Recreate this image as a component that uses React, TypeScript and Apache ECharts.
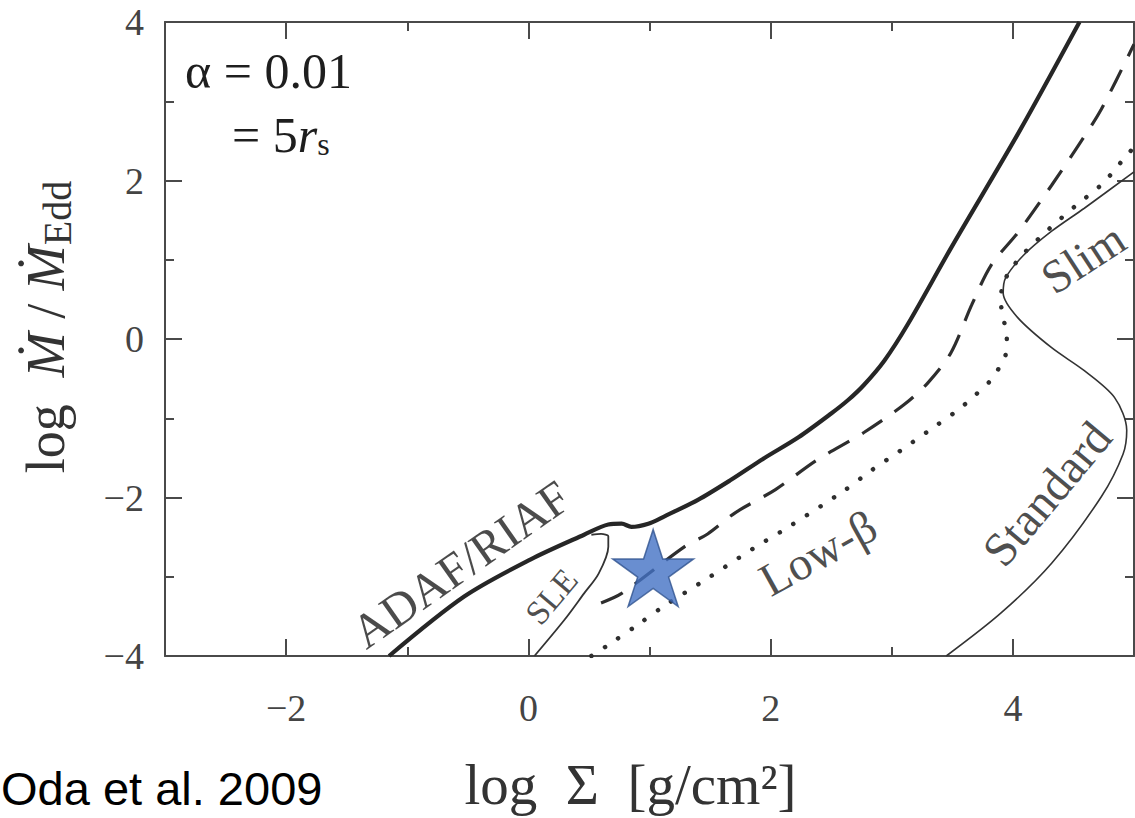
import React, { useEffect, useRef } from "react";
import * as echarts from "echarts";

// ---------- data ----------
const xMin = -3;
const xMax = 5;
const yMin = -4;
const yMax = 4;
const xMajorTicks = [-2, 0, 2, 4];

// thick solid: ADAF/RIAF branch continuing to the upper branch
const adafRiaf: number[][] = [
  [-1.15, -4.0], [-0.53, -3.25], [0.02, -2.78], [0.46, -2.47], [0.66, -2.34],
  [0.77, -2.33], [0.85, -2.37], [0.99, -2.33], [1.12, -2.24], [1.4, -2.03],
  [1.67, -1.78], [1.94, -1.51], [2.23, -1.24], [2.5, -0.94], [2.64, -0.77],
  [2.77, -0.58], [2.94, -0.27], [3.13, 0.18], [3.49, 1.15], [4.05, 2.61], [4.55, 4.0],
];
// dashed branch
const dashedBranch: number[][] = [
  [0.6, -3.33], [0.77, -3.21], [1.29, -2.62], [1.48, -2.46], [1.71, -2.19],
  [2.04, -1.9], [2.38, -1.53], [2.77, -1.18], [3.1, -0.83], [3.3, -0.55],
  [3.49, -0.17], [3.66, 0.43], [3.82, 0.93], [4.05, 1.36], [4.32, 1.94],
  [4.54, 2.44], [4.73, 2.9], [5.0, 3.72],
];
// dotted branch (Low-beta)
const lowBeta: number[][] = [
  [0.52, -4.0], [0.66, -3.86], [0.89, -3.62], [1.12, -3.37], [1.48, -3.02],
  [1.86, -2.64], [2.14, -2.38], [2.61, -1.91], [2.83, -1.66], [3.08, -1.4],
  [3.35, -1.11], [3.56, -0.88], [3.68, -0.72], [3.8, -0.55], [3.88, -0.38],
  [3.94, -0.2], [3.95, 0.04], [3.92, 0.27], [3.9, 0.48], [3.92, 0.7],
  [3.99, 0.89], [4.09, 1.08], [4.3, 1.39], [4.51, 1.67], [4.74, 1.96],
  [4.93, 2.3], [5.0, 2.42],
];
// thin S-curve: Standard + Slim
const standardSlim: number[][] = [
  [3.45, -4.0], [3.9, -3.46], [4.32, -2.83], [4.73, -1.99], [4.91, -1.45],
  [4.94, -1.15], [4.84, -0.74], [4.59, -0.4], [4.32, -0.11], [4.04, 0.27],
  [3.92, 0.58], [3.94, 0.77], [4.09, 1.06], [4.32, 1.36], [4.59, 1.65], [5.0, 2.11],
];
// SLE branch
const sleBranch: number[][] = [
  [0.05, -4.0], [0.3, -3.54], [0.46, -3.21], [0.58, -2.96], [0.66, -2.62],
  [0.66, -2.49], [0.6, -2.46], [0.52, -2.47],
];
// star marker
const starPoint: number[][] = [[1.03, -2.89]];

// region labels
const labelNames = ["ADAF/RIAF", "SLE", "Low-β", "Standard", "Slim"];
const labelX = [-0.56, 0.19, 2.39, 4.28, 4.58];
const labelY = [-2.84, -3.25, -2.7, -1.95, 1.02];
const labelRotate = [35, 50, 29, 50, 33];
const labelSize = [48, 34, 47, 48, 47];

const SERIF = "'Liberation Serif', 'DejaVu Serif', serif";
const SANS = "'Liberation Sans', Arial, sans-serif";
const STAR_PATH =
  "path://M0,-1 L0.2245,-0.309 L0.951,-0.309 L0.363,0.118 L0.588,0.809 L0,0.382 L-0.588,0.809 L-0.363,0.118 L-0.951,-0.309 L-0.2245,-0.309 Z";

const fmt = (v: number) => (v < 0 ? "\u2212" + Math.abs(v) : String(v));

export default function App() {
  const ref = useRef<HTMLDivElement>(null);

  useEffect(() => {
    if (!ref.current) return;
    const chart = echarts.init(ref.current, null, { renderer: "svg" });
    const frame = { color: "#4a4a4a", width: 2 };
    const tick = { color: "#4a4a4a", width: 2 };

    const makeX = (position: "bottom" | "top", major: boolean, withLabels: boolean) => ({
      type: "value",
      position,
      min: xMin,
      max: xMax,
      interval: 1,
      axisLine: { show: !major, onZero: false, lineStyle: frame },
      axisTick: major
        ? { show: true, inside: true, length: 17, customValues: xMajorTicks, lineStyle: tick }
        : { show: true, inside: true, length: 9, lineStyle: tick },
      axisLabel: withLabels
        ? {
            show: true,
            margin: 33,
            customValues: xMajorTicks,
            formatter: fmt,
            fontFamily: SERIF,
            fontSize: 38,
            color: "#444",
          }
        : { show: false },
      splitLine: { show: false },
    });

    const makeY = (position: "left" | "right", withLabels: boolean) => ({
      type: "value",
      position,
      min: yMin,
      max: yMax,
      interval: 2,
      axisLine: { show: true, onZero: false, lineStyle: frame },
      axisTick: { show: true, inside: true, length: 17, lineStyle: tick },
      minorTick: { show: true, splitNumber: 2, length: 9, lineStyle: tick },
      axisLabel: withLabels
        ? { show: true, margin: 21, formatter: fmt, fontFamily: SERIF, fontSize: 38, color: "#444" }
        : { show: false },
      splitLine: { show: false },
      minorSplitLine: { show: false },
    });

    const xAxes: any[] = [
      makeX("bottom", false, true),
      makeX("bottom", true, false),
      makeX("top", false, false),
      makeX("top", true, false),
    ];
    xAxes[0].name = "log  Σ  [g/cm²]";
    xAxes[0].nameLocation = "middle";
    xAxes[0].nameGap = 100;
    xAxes[0].nameTextStyle = {
      fontFamily: SERIF,
      fontSize: 57,
      color: "#333",
      padding: [0, 38, 0, 0],
    };

    const yAxes: any[] = [makeY("left", true), makeY("right", false)];
    yAxes[0].name = "{t|log  }{i|Ṁ}{t| / }{i|Ṁ}{sub|Edd}";
    yAxes[0].nameLocation = "middle";
    yAxes[0].nameRotate = 90;
    yAxes[0].nameGap = 88;
    yAxes[0].nameTextStyle = {
      color: "#333",
      padding: [0, 0, 0, 24],
      rich: {
        t: { fontFamily: SERIF, fontSize: 54, color: "#333", lineHeight: 62 },
        i: { fontFamily: SERIF, fontSize: 54, fontStyle: "italic", color: "#333", lineHeight: 62 },
        sub: { fontFamily: SERIF, fontSize: 40, color: "#333", verticalAlign: "bottom", lineHeight: 8 },
      },
    };

    const lineSeries = (data: number[][], style: any, z = 3) => ({
      type: "line",
      data,
      xAxisIndex: 0,
      yAxisIndex: 0,
      showSymbol: false,
      symbol: "none",
      smooth: 0.3,
      clip: true,
      silent: true,
      z,
      lineStyle: style,
    });

    chart.setOption({
      animation: false,
      grid: { left: 165, right: 1, top: 22, bottom: 158, containLabel: false },
      xAxis: xAxes,
      yAxis: yAxes,
      series: [
        lineSeries(adafRiaf, { color: "#262626", width: 4.2, type: "solid" }),
        lineSeries(dashedBranch, { color: "#2e2e2e", width: 3.2, type: [24, 15] }),
        lineSeries(lowBeta, { color: "#2e2e2e", width: 4.5, type: [0.1, 16], cap: "round" }),
        lineSeries(standardSlim, { color: "#333", width: 1.6, type: "solid" }),
        lineSeries(sleBranch, { color: "#333", width: 1.8, type: "solid" }),
        {
          type: "scatter",
          data: starPoint,
          symbol: STAR_PATH,
          symbolSize: [81, 77],
          itemStyle: { color: "#4472C4", borderColor: "#2F528F", borderWidth: 1.5 },
          silent: true,
          z: 5,
        },
        {
          type: "scatter",
          symbolSize: 0,
          silent: true,
          z: 6,
          data: labelNames.map((n, i) => ({
            name: n,
            value: [labelX[i], labelY[i]],
            label: { rotate: labelRotate[i], fontSize: labelSize[i] },
          })),
          label: {
            show: true,
            position: "inside",
            formatter: "{b}",
            fontFamily: SERIF,
            color: "#1e1e1e",
          },
        },
      ],
      graphic: [
        {
          type: "text",
          x: 185,
          y: 71,
          style: {
            text: "α = 0.01",
            fontFamily: SERIF,
            fontSize: 50,
            fill: "#1e1e1e",
            textVerticalAlign: "middle",
          },
        },
        {
          type: "text",
          x: 232,
          y: 135,
          style: {
            text: "= 5{i|r}{sub|s}",
            fontFamily: SERIF,
            fontSize: 50,
            fill: "#1e1e1e",
            textVerticalAlign: "middle",
            rich: {
              i: { fontFamily: SERIF, fontSize: 50, fontStyle: "italic", fill: "#1e1e1e" },
              sub: { fontFamily: SERIF, fontSize: 32, fill: "#1e1e1e", verticalAlign: "bottom", lineHeight: 12 },
            },
          },
        },
        {
          type: "text",
          x: 1,
          y: 788,
          style: {
            text: "Oda et al. 2009",
            fontFamily: SANS,
            fontSize: 47,
            fill: "#000",
            textVerticalAlign: "middle",
          },
        },
      ],
    });

    return () => chart.dispose();
  }, []);

  return (
    <div
      ref={ref}
      style={{ position: "fixed", left: 0, top: 0, width: 1135, height: 818, background: "#fff" }}
    />
  );
}
